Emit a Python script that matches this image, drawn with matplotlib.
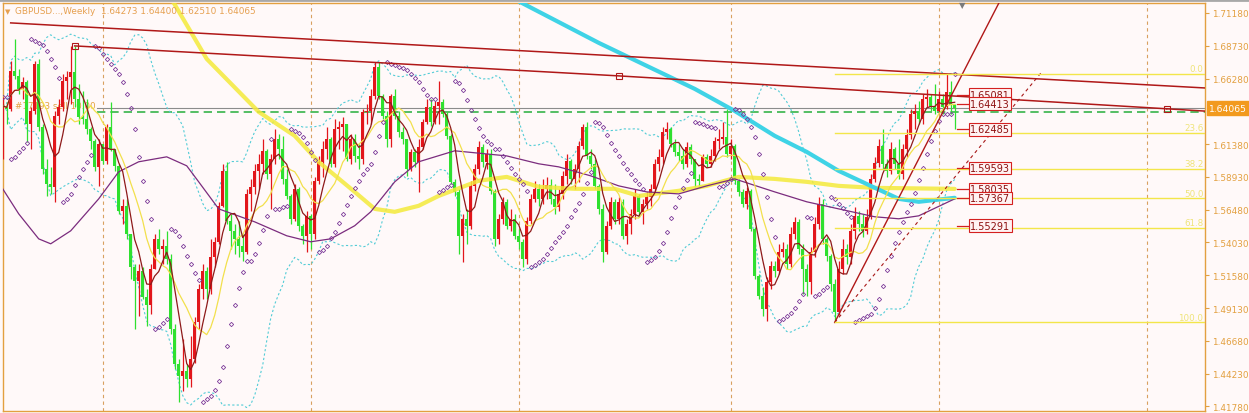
import numpy as np
import pandas as pd
import matplotlib
matplotlib.use('Agg')
import matplotlib.pyplot as plt
from matplotlib.lines import Line2D

# weekly GBPUSD bars (open = previous close)
first_open = 1.6267
closes = [
    1.6424, 1.6401, 1.6685, 1.6648, 1.6551, 1.6603, 1.6289, 1.6386, 1.6737, 1.6267,
    1.5953, 1.5841, 1.5819, 1.6349, 1.6416, 1.6610, 1.6640, 1.6678, 1.6476, 1.6342,
    1.6327, 1.6252, 1.6162, 1.5968, 1.6140, 1.6013, 1.6267, 1.6102, 1.5976, 1.5640,
    1.5677, 1.5468, 1.5221, 1.5116, 1.5191, 1.4997, 1.4937, 1.5206, 1.5430, 1.5356,
    1.5378, 1.5281, 1.4758, 1.4497, 1.4407, 1.4444, 1.4385, 1.4534, 1.4810, 1.5057,
    1.5191, 1.5057, 1.5296, 1.5408, 1.5677, 1.5938, 1.5565, 1.5490, 1.5430, 1.5378,
    1.5333, 1.5766, 1.5819, 1.5938, 1.5991, 1.6088, 1.5916, 1.6028, 1.6177, 1.6102,
    1.5878, 1.5752, 1.5580, 1.5804, 1.5528, 1.5453, 1.5602, 1.5468, 1.5863, 1.6006,
    1.6102, 1.6177, 1.5991, 1.6252, 1.6267, 1.6289, 1.6028, 1.6177, 1.6050, 1.6028,
    1.6379, 1.6386, 1.6498, 1.6715, 1.6498, 1.6349, 1.6177, 1.6498, 1.6349, 1.6230,
    1.6177, 1.5953, 1.6080, 1.6006, 1.6118, 1.6304, 1.6416, 1.6304, 1.6424, 1.6454,
    1.6364, 1.6200, 1.5856, 1.5781, 1.5453, 1.5580, 1.5528, 1.5826, 1.5953, 1.6118,
    1.6006, 1.6065, 1.5789, 1.5430, 1.5580, 1.5707, 1.5528, 1.5580, 1.5453, 1.5408,
    1.5281, 1.5565, 1.5729, 1.5804, 1.5729, 1.5804, 1.5834, 1.5729, 1.5669, 1.5766,
    1.5901, 1.6013, 1.5878, 1.5953, 1.6125, 1.6267, 1.6050, 1.5991, 1.5826, 1.5654,
    1.5333, 1.5528, 1.5707, 1.5580, 1.5707, 1.5453, 1.5542, 1.5617, 1.5752, 1.5632,
    1.5692, 1.5744, 1.5804, 1.5991, 1.6043, 1.6230, 1.6252, 1.6140, 1.6080, 1.6050,
    1.5991, 1.6118, 1.6028, 1.5878, 1.5863, 1.6043, 1.5991, 1.6050, 1.6162, 1.6177,
    1.6192, 1.6065, 1.6125, 1.5863, 1.5781, 1.5692, 1.5789, 1.5505, 1.5154, 1.5004,
    1.4907, 1.5109, 1.5228, 1.5191, 1.5333, 1.5356, 1.5243, 1.5468, 1.5558, 1.5356,
    1.5206, 1.5109, 1.5333, 1.5542, 1.5692, 1.5430, 1.5303, 1.5094, 1.4885, 1.5206,
    1.5356, 1.5296, 1.5490, 1.5602, 1.5542, 1.5490, 1.5595, 1.5878, 1.5998, 1.6125,
    1.5991, 1.5938, 1.6102, 1.5991, 1.5916, 1.6102, 1.6207, 1.6364, 1.6386, 1.6327,
    1.6476, 1.6491, 1.6416, 1.6386, 1.6476, 1.6416, 1.6528, 1.64273, 1.64065,
]
highs = [
    1.6491, 1.6454, 1.6760, 1.6924, 1.6700, 1.6640, 1.6620, 1.6416, 1.6760, 1.6775,
    1.6289, 1.6028, 1.5968, 1.6386, 1.6476, 1.6663, 1.6685, 1.6872, 1.6872, 1.6588,
    1.6536, 1.6476, 1.6267, 1.6177, 1.6177, 1.6140, 1.6289, 1.6454, 1.6102, 1.5991,
    1.5729, 1.5729, 1.5468, 1.5243, 1.5243, 1.5221, 1.5057, 1.5243, 1.5468, 1.5505,
    1.5430, 1.5490, 1.5318, 1.4795, 1.4534, 1.4683, 1.4497, 1.4705, 1.4848, 1.5094,
    1.5243, 1.5221, 1.5430, 1.5445, 1.5707, 1.5991, 1.6006, 1.5617, 1.5542, 1.5565,
    1.5468, 1.5804, 1.5878, 1.5991, 1.6065, 1.6177, 1.6102, 1.6065, 1.6252, 1.6215,
    1.6200, 1.5953, 1.5766, 1.5841, 1.5819, 1.5542, 1.5640, 1.5617, 1.5893, 1.6050,
    1.6162, 1.6267, 1.6192, 1.6327, 1.6312, 1.6342, 1.6289, 1.6215, 1.6215, 1.6140,
    1.6401, 1.6439, 1.6551, 1.6753, 1.6753, 1.6514, 1.6386, 1.6514, 1.6551, 1.6386,
    1.6267, 1.6177, 1.6102, 1.6102, 1.6177, 1.6327, 1.6476, 1.6476, 1.6461, 1.6610,
    1.6476, 1.6379, 1.6215, 1.5878, 1.5800, 1.5617, 1.5654, 1.5863, 1.5991, 1.6162,
    1.6140, 1.6102, 1.6102, 1.5804, 1.5617, 1.5744, 1.5729, 1.5654, 1.5617, 1.5505,
    1.5430, 1.5595, 1.5766, 1.5863, 1.5841, 1.5878, 1.5893, 1.5878, 1.5841, 1.5804,
    1.5938, 1.6065, 1.6028, 1.5991, 1.6162, 1.6289, 1.6304, 1.6102, 1.6028, 1.5841,
    1.5692, 1.5565, 1.5744, 1.5729, 1.5744, 1.5729, 1.5580, 1.5654, 1.5804, 1.5766,
    1.5729, 1.5782, 1.5841, 1.6028, 1.6102, 1.6267, 1.6304, 1.6267, 1.6177, 1.6140,
    1.6102, 1.6155, 1.6140, 1.6028, 1.5916, 1.6065, 1.6065, 1.6102, 1.6192, 1.6252,
    1.6304, 1.6401, 1.6177, 1.6140, 1.5878, 1.5804, 1.5819, 1.5804, 1.5520, 1.5169,
    1.5072, 1.5146, 1.5266, 1.5266, 1.5393, 1.5408, 1.5393, 1.5520, 1.5595, 1.5580,
    1.5393, 1.5243, 1.5371, 1.5595, 1.5744, 1.5729, 1.5445, 1.5318, 1.5131, 1.5266,
    1.5430, 1.5393, 1.5542, 1.5669, 1.5640, 1.5617, 1.5654, 1.5916, 1.6043, 1.6177,
    1.6252, 1.6028, 1.6155, 1.6118, 1.6177, 1.6140, 1.6252, 1.6401, 1.6439, 1.6461,
    1.6514, 1.6551, 1.6514, 1.6588, 1.6536, 1.6514, 1.6663, 1.6610, 1.6440,
]
lows = [
    1.6028, 1.6289, 1.6386, 1.6625, 1.6514, 1.6476, 1.6155, 1.6102, 1.6364, 1.6237,
    1.5916, 1.5752, 1.5767, 1.5707, 1.6289, 1.6386, 1.6476, 1.6439, 1.6416, 1.6289,
    1.6289, 1.6215, 1.6102, 1.5938, 1.5826, 1.5991, 1.5990, 1.6088, 1.5938, 1.5617,
    1.5542, 1.5430, 1.5131, 1.4758, 1.4855, 1.4982, 1.4780, 1.4870, 1.5206, 1.5318,
    1.5243, 1.5243, 1.4720, 1.4459, 1.4212, 1.4295, 1.4325, 1.4325, 1.4500, 1.4758,
    1.4982, 1.4982, 1.5019, 1.5221, 1.5393, 1.5669, 1.5542, 1.5356, 1.5318, 1.5296,
    1.5266, 1.5318, 1.5640, 1.5766, 1.5804, 1.5916, 1.5878, 1.5654, 1.5991, 1.6028,
    1.5841, 1.5729, 1.5542, 1.5565, 1.5490, 1.5393, 1.5333, 1.5356, 1.5430, 1.5841,
    1.5893, 1.6028, 1.5968, 1.5968, 1.6102, 1.6088, 1.6013, 1.5991, 1.6006, 1.5953,
    1.5991, 1.6289, 1.6289, 1.6476, 1.6476, 1.6327, 1.6118, 1.6120, 1.6327, 1.6192,
    1.6140, 1.5901, 1.5938, 1.5968, 1.5782, 1.6102, 1.6289, 1.6274, 1.6289, 1.6289,
    1.6342, 1.6177, 1.5841, 1.5752, 1.5318, 1.5259, 1.5393, 1.5505, 1.5789, 1.5916,
    1.5968, 1.5953, 1.5766, 1.5378, 1.5393, 1.5542, 1.5505, 1.5490, 1.5430, 1.5356,
    1.5221, 1.5243, 1.5542, 1.5707, 1.5677, 1.5692, 1.5729, 1.5692, 1.5617, 1.5640,
    1.5729, 1.5841, 1.5841, 1.5804, 1.5856, 1.6102, 1.6028, 1.5953, 1.5804, 1.5617,
    1.5259, 1.5318, 1.5505, 1.5542, 1.5542, 1.5430, 1.5393, 1.5468, 1.5580, 1.5595,
    1.5542, 1.5654, 1.5677, 1.5789, 1.5938, 1.5991, 1.6177, 1.6118, 1.6050, 1.6013,
    1.5953, 1.5968, 1.5991, 1.5819, 1.5826, 1.5863, 1.5968, 1.5968, 1.6013, 1.6102,
    1.6140, 1.6043, 1.6028, 1.5841, 1.5752, 1.5669, 1.5654, 1.5490, 1.5131, 1.4982,
    1.4855, 1.4818, 1.5057, 1.5146, 1.5169, 1.5296, 1.5206, 1.5221, 1.5430, 1.5318,
    1.5019, 1.5004, 1.5019, 1.5296, 1.5505, 1.5393, 1.5266, 1.5042, 1.4805, 1.4860,
    1.5169, 1.5243, 1.5243, 1.5430, 1.5490, 1.5445, 1.5468, 1.5580, 1.5856, 1.5968,
    1.5953, 1.5893, 1.5916, 1.5953, 1.5878, 1.5878, 1.6043, 1.6177, 1.6252, 1.6289,
    1.6289, 1.6416, 1.6386, 1.6364, 1.6364, 1.6364, 1.6401, 1.6364, 1.6251,
]

# long moving averages (they need history before the first bar), read as points
yellow_ma_bar = [41, 51, 64, 73, 79, 88, 93, 98, 104, 109, 119, 126, 134, 143,
                 153, 159, 169, 176, 184, 193, 201, 209, 218, 238]
yellow_ma = [1.7283, 1.6775, 1.6379, 1.6200, 1.6005, 1.5781, 1.5654, 1.5632, 1.5677,
             1.5751, 1.5864, 1.5893, 1.5819, 1.5804, 1.5804, 1.5751, 1.5789, 1.5826,
             1.5893, 1.5878, 1.5856, 1.5826, 1.5811, 1.58035]
cyan_ma_bar = [124, 149, 173, 183, 193, 201, 209, 217, 224, 229, 238]
cyan_ma = [1.7283, 1.6895, 1.6551, 1.6386, 1.6200, 1.6080, 1.5938, 1.5826, 1.5729,
           1.5707, 1.57367]
purple_ma_bar = [0, 4, 9, 12, 17, 24, 29, 34, 41, 46, 49, 54, 63, 71, 77, 82, 88, 92,
                 98, 104, 113, 126, 134, 139, 147, 154, 161, 169, 176, 183, 193, 201,
                 209, 218, 224, 229, 238]
purple_ma = [1.5804, 1.5617, 1.5430, 1.5393, 1.5490, 1.5729, 1.5931, 1.6006, 1.6043,
             1.5976, 1.5856, 1.5654, 1.5557, 1.5453, 1.5408, 1.5430, 1.5528, 1.5632,
             1.5856, 1.6006, 1.6088, 1.6050, 1.5991, 1.5968, 1.5901, 1.5826, 1.5781,
             1.5766, 1.5826, 1.5878, 1.5781, 1.5707, 1.5654, 1.5595, 1.5580, 1.5602,
             1.5729]

# drawn objects (bar index, price)
line_a = [(2, 1.7044), (301, 1.6557)]
line_b = [(18, 1.6872), (154, 1.6648), (291, 1.6402)]
steep_line = [(208, 1.4805), (249, 1.7190)]
dashed_line = [(208, 1.4805), (260, 1.6686)]
fib_start, fib_low, fib_high = 208, 1.4805, 1.6663
fib_levels = [0.0, 23.6, 38.2, 50.0, 61.8, 100.0]
separators = [25, 77, 129, 182, 234, 286]
price_tags = [1.65081, 1.64413, 1.62485, 1.59593, 1.58035, 1.57367, 1.55291]
bid, order_price = 1.64065, 1.6380
# 1.63830 sits under the current-price box, so it has no visible label
yticks = [1.41780, 1.44230, 1.46680, 1.49130, 1.51580, 1.54030, 1.56480,
          1.58930, 1.61380, 1.66280, 1.68730, 1.71180]

BG = '#FFF9F9'
ORANGE = '#E3A040'

c = np.array(closes)
h = np.array(highs)
l = np.array(lows)
o = np.concatenate([[first_open], c[:-1]])
x = np.arange(len(c))


def psar(high, low, step=0.02, top=0.2):
    sar = np.zeros(len(high))
    up, af, ep = False, step, low[0]
    sar[0] = high[0]
    for i in range(1, len(high)):
        s = sar[i - 1] + af * (ep - sar[i - 1])
        if up:
            s = min(s, low[i - 1], low[max(i - 2, 0)])
            if low[i] < s:
                up, s, ep, af = False, ep, low[i], step
            elif high[i] > ep:
                ep, af = high[i], min(af + step, top)
        else:
            s = max(s, high[i - 1], high[max(i - 2, 0)])
            if high[i] > s:
                up, s, ep, af = True, ep, high[i], step
            elif low[i] < ep:
                ep, af = low[i], min(af + step, top)
        sar[i] = s
    return sar


cs = pd.Series(c)
ma5 = cs.rolling(5, min_periods=1).mean()
ma10 = cs.rolling(10, min_periods=1).mean()
mid = cs.rolling(20, min_periods=1).mean()
sd = cs.rolling(20, min_periods=1).std(ddof=0)
sar = psar(h, l)

fig = plt.figure(figsize=(12.49, 4.14), dpi=100, facecolor=BG)
ax = fig.add_axes([3 / 1249, 2 / 414, 1202 / 1249, 408 / 414])
ax.set_facecolor(BG)
ax.set_xlim(0.075, 300.575)
ax.set_ylim(1.41434, 1.71927)

for s in ax.spines.values():
    s.set_color(ORANGE)
    s.set_linewidth(1)
ax.set_xticks([])
ax.yaxis.tick_right()
ax.set_yticks(yticks)
ax.set_yticklabels([f'{v:.5f}' for v in yticks])
ax.tick_params(axis='y', colors=ORANGE, labelsize=6.4, length=3, width=0.8, pad=2)

for b in separators:
    ax.axvline(b, color='#D9A060', lw=0.8, ls=(0, (3, 3)), zorder=1)

# bid / order lines
ax.plot([23.5, 300.6], [bid, bid], color='#8C8C8C', lw=0.8, zorder=1)
ax.plot([23.5, 300.6], [order_price, order_price], color='#37B44A', lw=1.2,
        ls=(0, (5, 3)), zorder=1)
ax.text(3, order_price + 0.001, '#17193 sell 10.00', color=ORANGE, fontsize=6.3,
        va='bottom', zorder=1)

# bollinger bands
for band in (mid + 2 * sd, mid - 2 * sd):
    ax.plot(x, band, color='#52CCD6', lw=0.8, ls=(0, (2, 2)), zorder=2)

# candles
up = c >= o
col = np.where(up, '#E2161B', '#2FE02F')
ax.vlines(x, l, h, colors=col, lw=0.9, zorder=3)
body = np.where(np.abs(c - o) < 0.0004, 0.0004, np.abs(c - o))
ax.bar(x, body, bottom=np.minimum(o, c), width=0.62, color=col, lw=0, zorder=3)

# indicators
ax.plot(yellow_ma_bar, yellow_ma, color='#F4EA3A', lw=3, alpha=0.85, zorder=4,
        solid_capstyle='round')
ax.plot(cyan_ma_bar, cyan_ma, color='#3FD3E6', lw=3, zorder=4, solid_capstyle='round')
ax.plot(purple_ma_bar, purple_ma, color='#7B2C7E', lw=0.9, zorder=4)
ax.plot(x, ma10, color='#F2E04C', lw=0.9, zorder=4)
ax.plot(x, ma5, color='#8E1A1A', lw=0.9, zorder=4)
ax.plot(x, sar, ls='none', marker='D', ms=2.2, mfc='none', mec='#7E3C9A', mew=0.6,
        zorder=4)

# trend lines
tl = dict(color='#B01818', lw=1.1, zorder=5)
ax.plot(*zip(*line_a), **tl)
bx, by = zip(*line_b)
ax.plot(bx, by, **tl)
slope = (by[2] - by[1]) / (bx[2] - bx[1])
ax.plot([bx[2], 301], [by[2], by[2] + slope * (301 - bx[2])], **tl)
ax.plot(bx, by, ls='none', marker='s', ms=4, mfc='none', mec='#B01818', mew=0.8,
        zorder=5)
(sx0, sy0), (sx1, sy1) = steep_line
k = (sy1 - sy0) / (sx1 - sx0)
ax.plot([sx0, sx0 + 60], [sy0, sy0 + 60 * k], color='#B01818', lw=1, zorder=5)
ax.plot(*zip(*dashed_line), color='#A81818', lw=0.8, ls=(0, (3, 3)), zorder=5)

# fibonacci
for lev in fib_levels:
    p = fib_high - (fib_high - fib_low) * lev / 100
    ax.plot([fib_start, 300.6], [p, p], color='#F3E64A', lw=1, zorder=5)
    ax.text(300.2, p + 0.0004, f'{lev:.1f}', color='#EFE47A', fontsize=6.3,
            ha='right', va='bottom', zorder=5)

# value tags next to the last bar
for v in price_tags:
    ax.plot([x[-1] + 0.6, 241.6], [v, v], color='#D42020', lw=0.9, zorder=6)
    ax.text(241.9, v, f'{v:.5f}', color='#8E1010', fontsize=7, va='center',
            ha='left', zorder=6,
            bbox=dict(boxstyle='square,pad=0.12', fc='#FFF3F3', ec='#D42020', lw=0.8))

# current price box on the axis
ax.annotate(f'{bid:.5f}', xy=(1.0, bid), xycoords=('axes fraction', 'data'),
            xytext=(3, 0), textcoords='offset points', color='white', fontsize=6.6,
            va='center', ha='left', annotation_clip=False, zorder=10,
            bbox=dict(boxstyle='square,pad=0.25', fc='#F29A1E', ec='#F29A1E'))

# header and window bits
fig.text(15 / 1249, 1 - 12 / 414, 'GBPUSD...,Weekly  1.64273 1.64400 1.62510 1.64065',
         color='#E6A050', fontsize=6.4, va='center')
fig.text(5 / 1249, 1 - 12 / 414, '\u25bc', color='#E6A050', fontsize=5, va='center')
fig.add_artist(Line2D([0, 1], [1 - 1 / 414, 1 - 1 / 414], color='#A8A8A8', lw=2,
                      transform=fig.transFigure))
fig.text(962 / 1249, 1 - 6 / 414, '\u25bc', color='#7A7A7A', fontsize=6,
         ha='center', va='center')

plt.savefig('out.png', dpi=100, facecolor=BG)
